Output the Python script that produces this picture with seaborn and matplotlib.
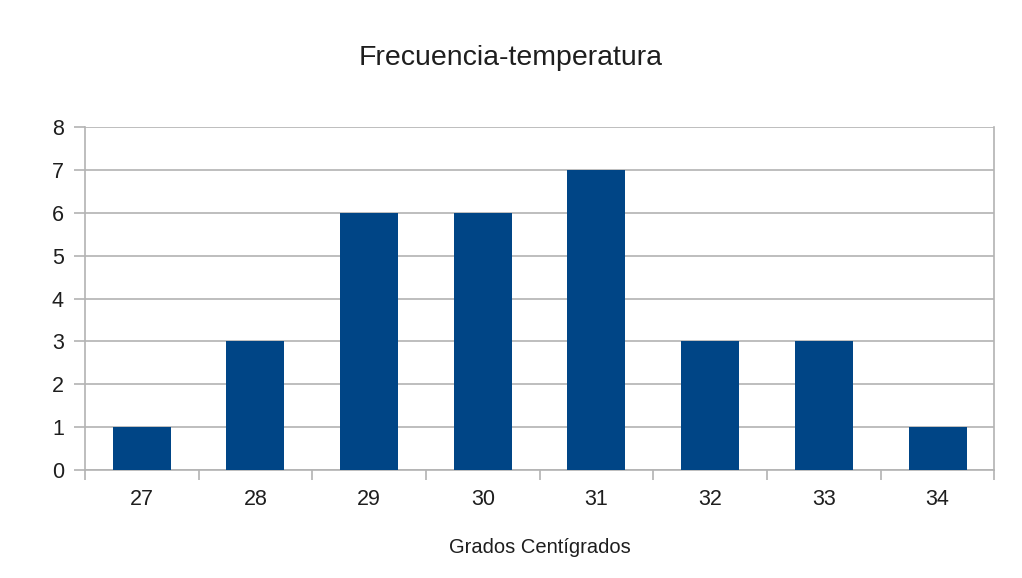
import numpy as np
import pandas as pd
import seaborn as sns
import matplotlib
matplotlib.use("Agg")
import matplotlib.pyplot as plt
from matplotlib.ticker import FixedLocator

grados = ["27", "28", "29", "30", "31", "32", "33", "34"]
frecuencia = [1, 3, 6, 6, 7, 3, 3, 1]

tabla = pd.DataFrame({"grados": grados, "frecuencia": frecuencia})

sns.set_style("white")
plt.rcParams["font.family"] = ["Liberation Sans", "DejaVu Sans"]

fig = plt.figure(figsize=(10.22, 5.78), dpi=100)
ax = fig.add_axes([0.083, 0.187, 0.89, 0.593])

sns.barplot(data=tabla, x="grados", y="frecuencia", color="#004586",
            width=0.51, saturation=1, linewidth=0, ax=ax, zorder=3)

gris = "#b3b3b3"
texto = "#1e1e1e"
ax.set_ylim(0, 8)
ax.set_xlim(-0.5, len(grados) - 0.5)
ax.set_yticks(range(0, 9))
ax.yaxis.grid(True, color=gris, linewidth=1.2, zorder=0)

# ticks del eje x en los limites de categoria
ax.xaxis.set_minor_locator(FixedLocator(np.arange(-0.5, len(grados), 1)))
ax.tick_params(axis="x", which="major", bottom=True, length=0, pad=14,
               labelsize=15.5, colors=texto)
ax.tick_params(axis="x", which="minor", bottom=True, length=7, width=1.2, color=gris)
ax.tick_params(axis="y", left=True, length=8, width=1.2, color=gris, pad=7,
               labelsize=15.5, labelcolor=texto)

for lado in ["left", "right", "bottom"]:
    ax.spines[lado].set_visible(True)
    ax.spines[lado].set_color(gris)
    ax.spines[lado].set_linewidth(1.2)
ax.spines["top"].set_visible(False)

ax.set_xlabel("Grados Centígrados", fontsize=14.5, labelpad=20, color=texto)
ax.set_ylabel("")
fig.suptitle("Frecuencia-temperatura", fontsize=20.5, y=0.922, color=texto)

fig.savefig("out.png", dpi=100, facecolor="white")
